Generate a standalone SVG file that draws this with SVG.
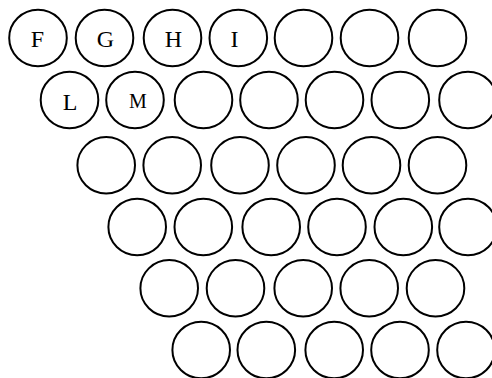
<svg xmlns="http://www.w3.org/2000/svg" width="492" height="378" viewBox="0 0 492 378">
<style>
ellipse{fill:#fff;stroke:#000;stroke-width:2}
text{font-family:"Liberation Serif","Times New Roman",serif;font-size:24px;fill:#000;text-anchor:middle}
.s{font-size:20px}
</style>
<rect width="492" height="378" fill="#fff"/>
<g id="r1">
<g id="nF"><ellipse cx="38" cy="38" rx="28.8" ry="28.2"/><text x="37.5" y="46.5">F</text></g>
<g id="nG"><ellipse cx="104.5" cy="38" rx="28.8" ry="28.2"/><text x="105.5" y="46.5">G</text></g>
<g id="nH"><ellipse cx="172.5" cy="38" rx="28.8" ry="28.2"/><text x="173.5" y="46.5">H</text></g>
<g id="nI"><ellipse cx="238.3" cy="38" rx="28.8" ry="28.2"/><text x="234.5" y="46.5">I</text></g>
<g id="n15"><ellipse cx="303.5" cy="38" rx="28.8" ry="28.2"/></g>
<g id="n16"><ellipse cx="369.5" cy="38" rx="28.8" ry="28.2"/></g>
<g id="n17"><ellipse cx="437.5" cy="38" rx="28.8" ry="28.2"/></g>
</g>
<g id="r2">
<g id="nL"><ellipse cx="69.5" cy="100" rx="28.8" ry="28.2"/><text x="70" y="109.5">L</text></g>
<g id="nM"><ellipse cx="135" cy="100" rx="28.8" ry="28.2"/><text class="s" x="138" y="107.5">M</text></g>
<g id="n23"><ellipse cx="203.5" cy="100" rx="28.8" ry="28.2"/></g>
<g id="n24"><ellipse cx="269" cy="100" rx="28.8" ry="28.2"/></g>
<g id="n25"><ellipse cx="334.5" cy="100" rx="28.8" ry="28.2"/></g>
<g id="n26"><ellipse cx="400.3" cy="100" rx="28.8" ry="28.2"/></g>
<g id="n27"><ellipse cx="468" cy="100" rx="28.8" ry="28.2"/></g>
</g>
<g id="r3">
<g id="n31"><ellipse cx="106.2" cy="165.3" rx="28.8" ry="28.2"/></g>
<g id="n32"><ellipse cx="172.2" cy="165.3" rx="28.8" ry="28.2"/></g>
<g id="n33"><ellipse cx="240" cy="165.3" rx="28.8" ry="28.2"/></g>
<g id="n34"><ellipse cx="306" cy="165.3" rx="28.8" ry="28.2"/></g>
<g id="n35"><ellipse cx="371.5" cy="165.3" rx="28.8" ry="28.2"/></g>
<g id="n36"><ellipse cx="437.5" cy="165.3" rx="28.8" ry="28.2"/></g>
</g>
<g id="r4">
<g id="n41"><ellipse cx="137.2" cy="227" rx="28.8" ry="28.2"/></g>
<g id="n42"><ellipse cx="203.3" cy="227" rx="28.8" ry="28.2"/></g>
<g id="n43"><ellipse cx="271.2" cy="227" rx="28.8" ry="28.2"/></g>
<g id="n44"><ellipse cx="337" cy="227" rx="28.8" ry="28.2"/></g>
<g id="n45"><ellipse cx="403.3" cy="227" rx="28.8" ry="28.2"/></g>
<g id="n46"><ellipse cx="468" cy="227" rx="28.8" ry="28.2"/></g>
</g>
<g id="r5">
<g id="n51"><ellipse cx="169.2" cy="288.3" rx="28.8" ry="28.2"/></g>
<g id="n52"><ellipse cx="235.5" cy="288.3" rx="28.8" ry="28.2"/></g>
<g id="n53"><ellipse cx="303.2" cy="288.3" rx="28.8" ry="28.2"/></g>
<g id="n54"><ellipse cx="369.2" cy="288.3" rx="28.8" ry="28.2"/></g>
<g id="n55"><ellipse cx="435.5" cy="288.3" rx="28.8" ry="28.2"/></g>
</g>
<g id="r6">
<g id="n61"><ellipse cx="201.2" cy="350" rx="28.8" ry="28.2"/></g>
<g id="n62"><ellipse cx="266.3" cy="350" rx="28.8" ry="28.2"/></g>
<g id="n63"><ellipse cx="334.2" cy="350" rx="28.8" ry="28.2"/></g>
<g id="n64"><ellipse cx="400" cy="350" rx="28.8" ry="28.2"/></g>
<g id="n65"><ellipse cx="466" cy="350" rx="28.8" ry="28.2"/></g>
</g>
<g id="connectors"/>
</svg>
